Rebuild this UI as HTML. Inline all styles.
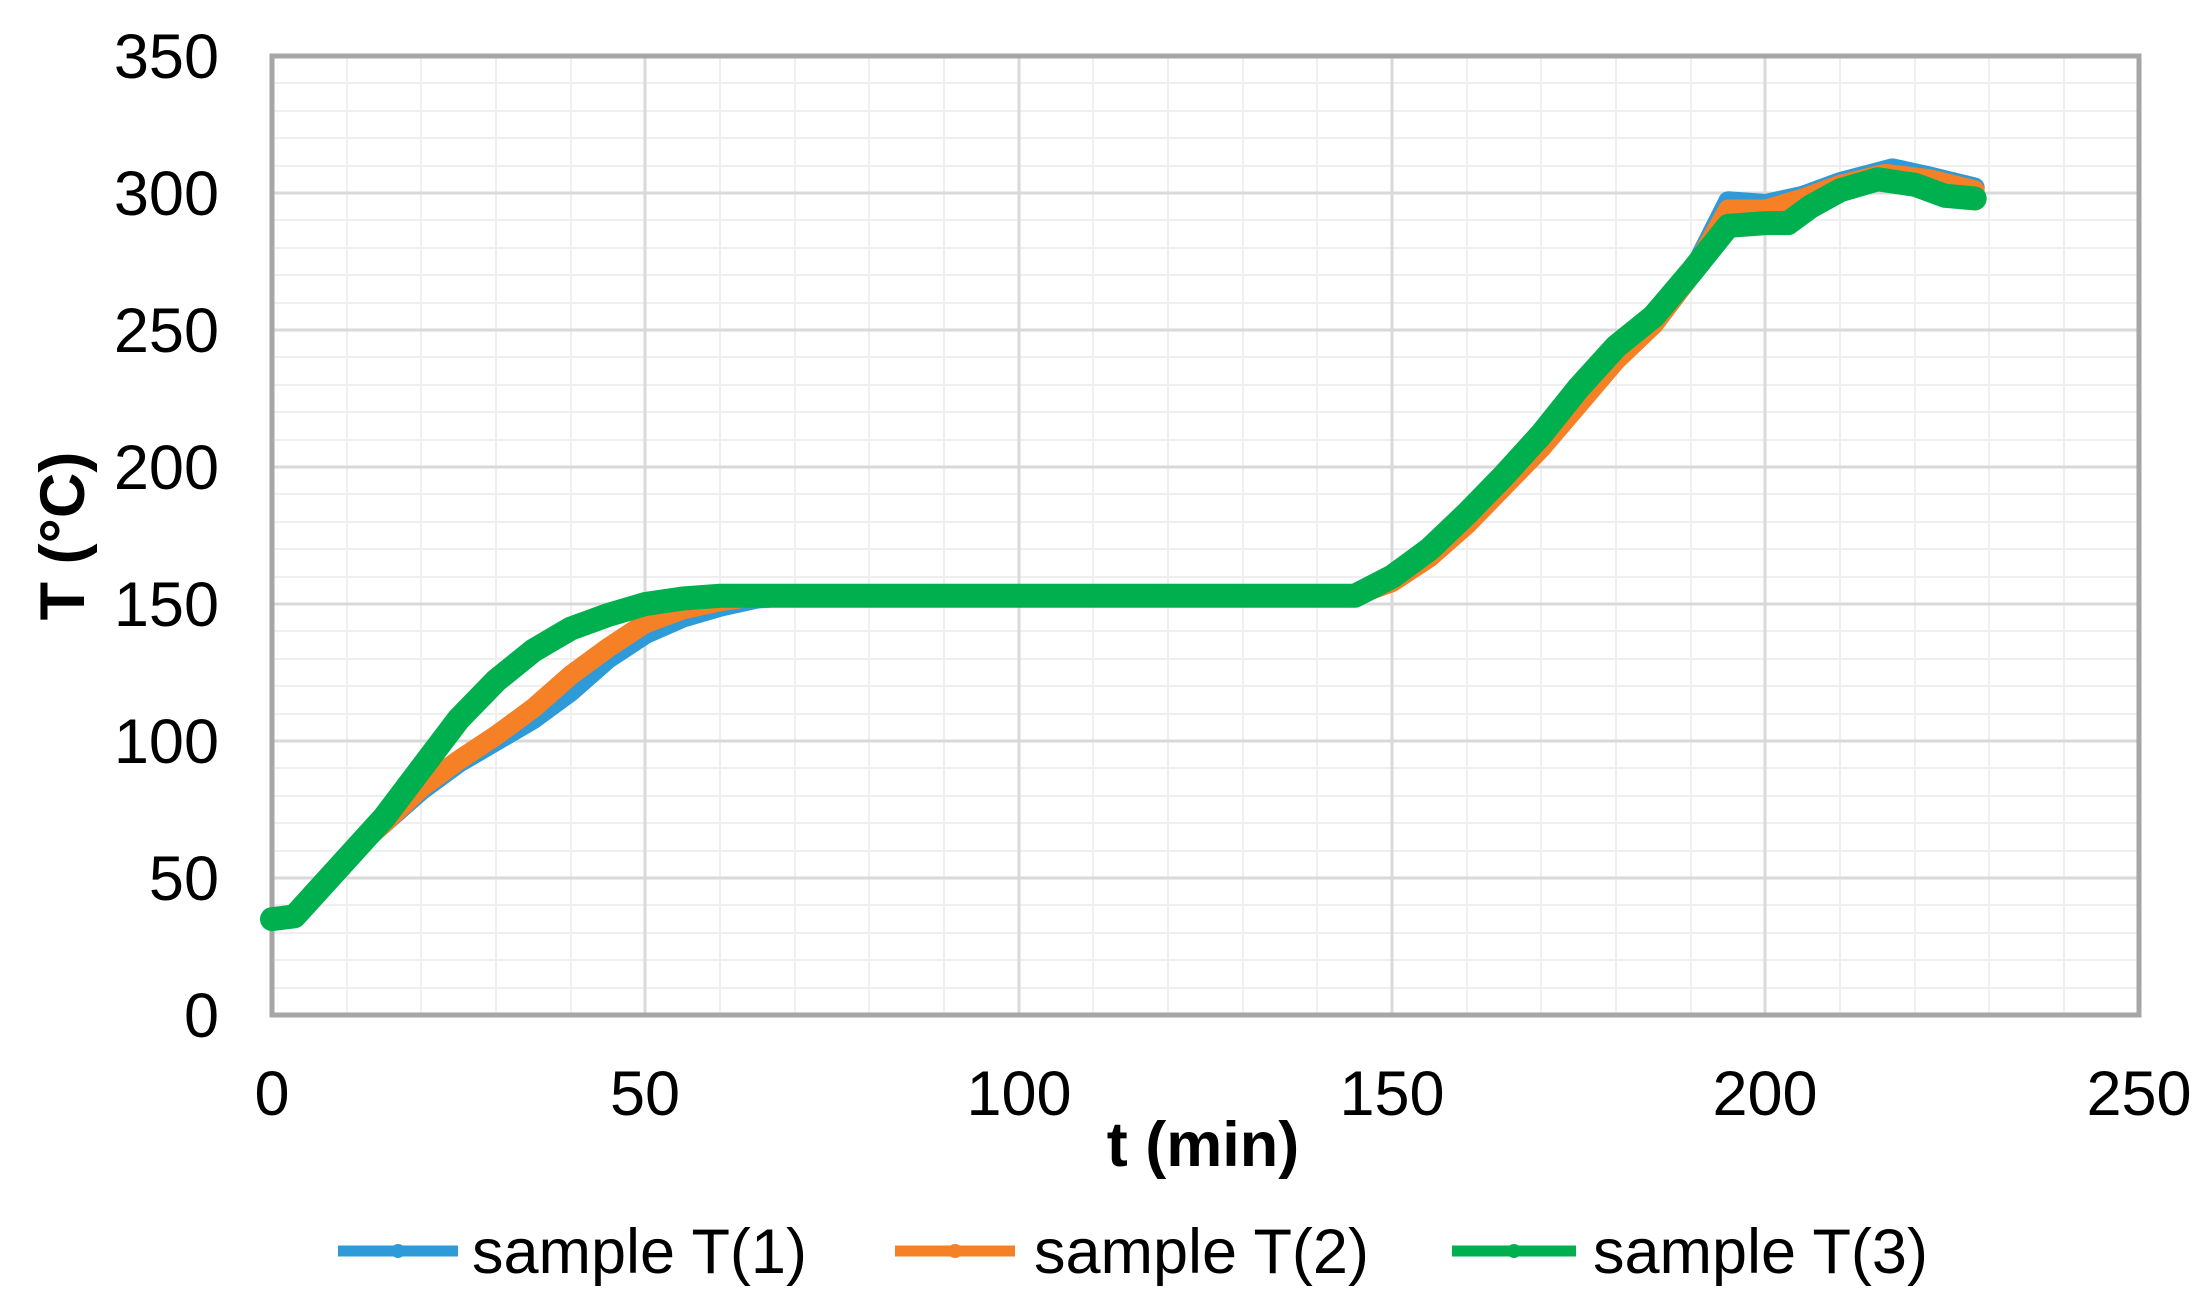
<!DOCTYPE html>
<html><head><meta charset="utf-8"><style>
html,body{margin:0;padding:0;background:#fff;}
svg{display:block;font-family:"Liberation Sans",Arial,sans-serif;}
</style></head><body>
<svg width="2211" height="1311" viewBox="0 0 2211 1311" xmlns="http://www.w3.org/2000/svg">
<rect width="2211" height="1311" fill="#fff"/>
<g stroke="#efefef" stroke-width="2">
<path d="M347 56V1015M421 56V1015M496 56V1015M571 56V1015M720 56V1015M795 56V1015M869 56V1015M944 56V1015M1093 56V1015M1168 56V1015M1243 56V1015M1317 56V1015M1467 56V1015M1541 56V1015M1616 56V1015M1691 56V1015M1840 56V1015M1915 56V1015M1989 56V1015M2064 56V1015"/>
<path d="M272 988H2139M272 960H2139M272 933H2139M272 905H2139M272 851H2139M272 823H2139M272 796H2139M272 768H2139M272 714H2139M272 686H2139M272 659H2139M272 631H2139M272 577H2139M272 549H2139M272 522H2139M272 494H2139M272 440H2139M272 412H2139M272 385H2139M272 357H2139M272 303H2139M272 275H2139M272 248H2139M272 220H2139M272 166H2139M272 138H2139M272 111H2139M272 83H2139"/>
</g>
<g stroke="#d9d9d9" stroke-width="3">
<path d="M645 56V1015M1019 56V1015M1392 56V1015M1765 56V1015"/>
<path d="M272 878H2139M272 741H2139M272 604H2139M272 467H2139M272 330H2139M272 193H2139"/>
</g>
<rect x="272" y="56" width="1867" height="959" fill="none" stroke="#a6a6a6" stroke-width="5"/>
<g transform="translate(272,1015) scale(7.468,-2.74)" fill="none" stroke-linejoin="round" stroke-linecap="round">
<polyline vector-effect="non-scaling-stroke" stroke="#2e9ad8" stroke-width="20" points="0,35 3,37 5,43 10,58 15,70 20,82 25,92 30,100 35,108 40,118 45,130 50,139 55,145 60,149 65,152 70,153 145,153 150,159 155,168 160,180 165,194 170,208 175,224 180,240 185,252 190,270 195,297 200,296 205,299 210,304 217,309 222,306 228,302"/>
<polyline vector-effect="non-scaling-stroke" stroke="#f58025" stroke-width="20" points="0,35 3,37 5,43 10,58 15,70 20,83 25,93 30,102 35,112 40,124 45,134 50,143 55,148 60,151 65,153 145,153 150,158 155,167 160,179 165,193 170,207 175,223 180,239 185,252 190,270 195,294 200,294 205,298 210,303 216,307 222,305 228,301"/>
<polyline vector-effect="non-scaling-stroke" stroke="#00b04f" stroke-width="24" points="0,35 3,36 5,42 10,57 15,72 20,90 25,108 30,122 35,133 40,141 45,146 50,150 55,152 60,153 145,153 150,160 155,170 160,183 165,197 170,212 175,229 180,244 185,255 190,271 195,288 200,289 203,289 206,295 210,301 215,305 220,303 224,299 228,298"/>
</g>
<g font-size="63" fill="#000" text-anchor="end">
<text x="219" y="1037">0</text>
<text x="219" y="900">50</text>
<text x="219" y="763">100</text>
<text x="219" y="626">150</text>
<text x="219" y="489">200</text>
<text x="219" y="352">250</text>
<text x="219" y="215">300</text>
<text x="219" y="78">350</text>
</g>
<g font-size="63" fill="#000" text-anchor="middle">
<text x="272" y="1115">0</text>
<text x="645" y="1115">50</text>
<text x="1019" y="1115">100</text>
<text x="1392" y="1115">150</text>
<text x="1765" y="1115">200</text>
<text x="2139" y="1115">250</text>
</g>
<text x="1203" y="1166" font-size="63" font-weight="bold" text-anchor="middle">t (min)</text>
<text transform="translate(84,536) rotate(-90)" font-size="63" font-weight="bold" text-anchor="middle">T (°C)</text>
<g stroke-width="11">
<line x1="338" y1="1251" x2="458" y2="1251" stroke="#2e9ad8"/>
<line x1="895" y1="1251" x2="1015" y2="1251" stroke="#f58025"/>
<line x1="1452" y1="1251" x2="1576" y2="1251" stroke="#00b04f"/>
</g>
<circle cx="398" cy="1251" r="7" fill="#2e9ad8"/>
<circle cx="955" cy="1251" r="7" fill="#f58025"/>
<circle cx="1514" cy="1251" r="7" fill="#00b04f"/>
<g font-size="63" fill="#000">
<text x="472" y="1273">sample T(1)</text>
<text x="1034" y="1273">sample T(2)</text>
<text x="1593" y="1273">sample T(3)</text>
</g>
</svg>
</body></html>
